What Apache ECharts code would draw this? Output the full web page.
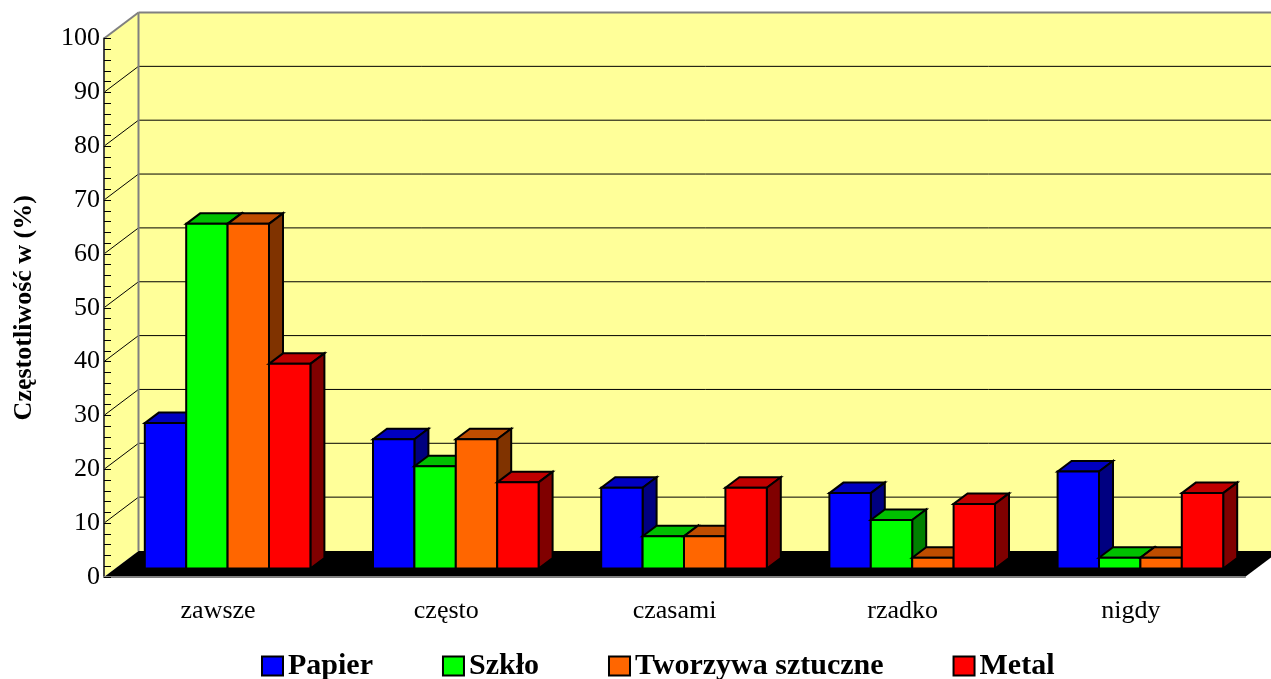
<!DOCTYPE html>
<html>
<head lang="en">
    <meta charset="UTF-8">
    <title>Częstotliwość</title>
    <style>
        html, body { margin: 0; padding: 0; background: #fff; }
        #main { width: 1271px; height: 679px; }
    </style>
</head>
<body>
<div id="main"></div>
<script src="https://cdn.jsdelivr.net/npm/echarts@6/dist/echarts.min.js"></script>
<script>
    // dane
    var categories = ['zawsze', 'często', 'czasami', 'rzadko', 'nigdy'];
    var papier = [27, 24, 15, 14, 18];
    var szklo = [64, 19, 6, 9, 2];
    var tworzywa = [64, 24, 6, 2, 2];
    var metal = [38, 16, 15, 12, 14];
    var wallTicks = [0, 10, 20, 30, 40, 50, 60, 70, 80, 90, 100];

    var FONT = '"Liberation Serif", "Times New Roman", serif';
    // przesuniecie glebi calego wykresu i pojedynczego slupka
    var wallDx = 34.5, wallDy = -26;
    var barDx = 14, barDy = -10.5;
    var barShiftX = 9.5, barShiftY = -8.5;
    var barW = 41.4;

    function poly(points, fill, stroke, width) {
        return {
            type: 'polygon',
            shape: { points: points },
            style: { fill: fill, stroke: stroke, lineWidth: width || 0 }
        };
    }
    function line(x1, y1, x2, y2, stroke, width) {
        return {
            type: 'line',
            shape: { x1: x1, y1: y1, x2: x2, y2: y2 },
            style: { stroke: stroke, lineWidth: width, fill: null }
        };
    }

    // sciany i podloga
    function renderWalls(params, api) {
        var cs = params.coordSys;
        var left = cs.x, right = cs.x + cs.width;
        var y0 = api.coord([0, 0])[1], y100 = api.coord([0, 100])[1];
        var kids = [];
        kids.push(poly([[left, y0], [left + wallDx, y0 + wallDy], [left + wallDx, y100 + wallDy], [left, y100]], '#ffff99'));
        kids.push(poly([[left + wallDx, y0 + wallDy], [right + wallDx, y0 + wallDy], [right + wallDx, y100 + wallDy], [left + wallDx, y100 + wallDy]], '#ffff99'));
        wallTicks.forEach(function (t) {
            if (t === 0 || t === 100) return;
            var y = api.coord([0, t])[1];
            kids.push(line(left, y, left + wallDx, y + wallDy, '#000', 1));
            kids.push(line(left + wallDx, y + wallDy, right + wallDx, y + wallDy, '#000', 1));
        });
        kids.push(line(left, y100, left + wallDx, y100 + wallDy, '#808080', 2));
        kids.push(line(left + wallDx, y100 + wallDy, right + wallDx, y100 + wallDy, '#808080', 2));
        kids.push(line(left + wallDx, y100 + wallDy, left + wallDx, y0 + wallDy, '#808080', 2));
        kids.push(poly([[left, y0], [left + wallDx, y0 + wallDy], [right + wallDx, y0 + wallDy], [right, y0]], '#000'));
        return { type: 'group', children: kids };
    }

    // slupek 3d: gora, bok, przod
    function makeBar(idx, colors) {
        return function (params, api) {
            var base = api.coord([api.value(0), 0]);
            var top = api.coord([api.value(0), api.value(1)]);
            var x = base[0] + barShiftX + (idx - 2) * barW;
            var yb = base[1] + barShiftY, yt = top[1] + barShiftY;
            var xr = x + barW;
            return {
                type: 'group',
                children: [
                    poly([[x, yt], [x + barDx, yt + barDy], [xr + barDx, yt + barDy], [xr, yt]], colors[1], '#000', 2),
                    poly([[xr, yt], [xr + barDx, yt + barDy], [xr + barDx, yb + barDy], [xr, yb]], colors[2], '#000', 2),
                    poly([[x, yt], [xr, yt], [xr, yb], [x, yb]], colors[0], '#000', 2)
                ]
            };
        };
    }

    function barSeries(name, values, idx, colors) {
        return {
            name: name,
            type: 'custom',
            z: 2,
            clip: false,
            itemStyle: { color: colors[0], borderColor: '#000', borderWidth: 2 },
            encode: { x: 0, y: 1 },
            data: values.map(function (v, i) { return [i, v]; }),
            renderItem: makeBar(idx, colors)
        };
    }

    var myChart = echarts.init(document.getElementById('main'));
    var option = {
        animation: false,
        backgroundColor: '#fff',
        grid: { left: 104, right: 26, top: 38.5, height: 538.5, outerBoundsMode: 'none' },
        legend: {
            data: ['Papier', 'Szkło', 'Tworzywa sztuczne', 'Metal'],
            left: 261,
            top: 651,
            padding: 0,
            icon: 'rect',
            itemWidth: 21,
            itemHeight: 19,
            itemGap: 69,
            textStyle: { fontFamily: FONT, fontWeight: 'bold', fontSize: 30, color: '#000' }
        },
        xAxis: {
            type: 'category',
            data: categories,
            z: 3,
            axisLine: { lineStyle: { color: '#808080', width: 2 } },
            axisTick: { length: 9, lineStyle: { color: '#808080', width: 1 } },
            axisLabel: { fontFamily: FONT, fontSize: 26, color: '#000', margin: 21 },
            splitLine: { show: false }
        },
        yAxis: {
            type: 'value',
            min: 0,
            max: 100,
            interval: 10,
            z: 3,
            name: 'Częstotliwość w (%)',
            nameLocation: 'middle',
            nameRotate: 90,
            nameGap: 67,
            nameTextStyle: { fontFamily: FONT, fontWeight: 'bold', fontSize: 26, color: '#000' },
            axisLine: { show: true, lineStyle: { color: '#444', width: 2 } },
            axisTick: { show: true, inside: true, length: 7, lineStyle: { color: '#000', width: 1 } },
            minorTick: { show: true, splitNumber: 5, length: 7, lineStyle: { color: '#000', width: 1 } },
            axisLabel: { fontFamily: FONT, fontSize: 26, color: '#000', margin: 4, padding: [2, 0, 0, 0] },
            splitLine: { show: false },
            minorSplitLine: { show: false }
        },
        series: [
            {
                name: 'tlo',
                type: 'custom',
                z: 1,
                clip: false,
                silent: true,
                encode: { x: 0, y: 1 },
                data: [[0, 0]],
                renderItem: renderWalls
            },
            barSeries('Papier', papier, 0, ['#0000ff', '#0000c0', '#000080']),
            barSeries('Szkło', szklo, 1, ['#00ff00', '#00c000', '#008000']),
            barSeries('Tworzywa sztuczne', tworzywa, 2, ['#ff6600', '#bf4d00', '#803300']),
            barSeries('Metal', metal, 3, ['#ff0000', '#c00000', '#800000'])
        ]
    };
    myChart.setOption(option);
</script>
</body>
</html>
